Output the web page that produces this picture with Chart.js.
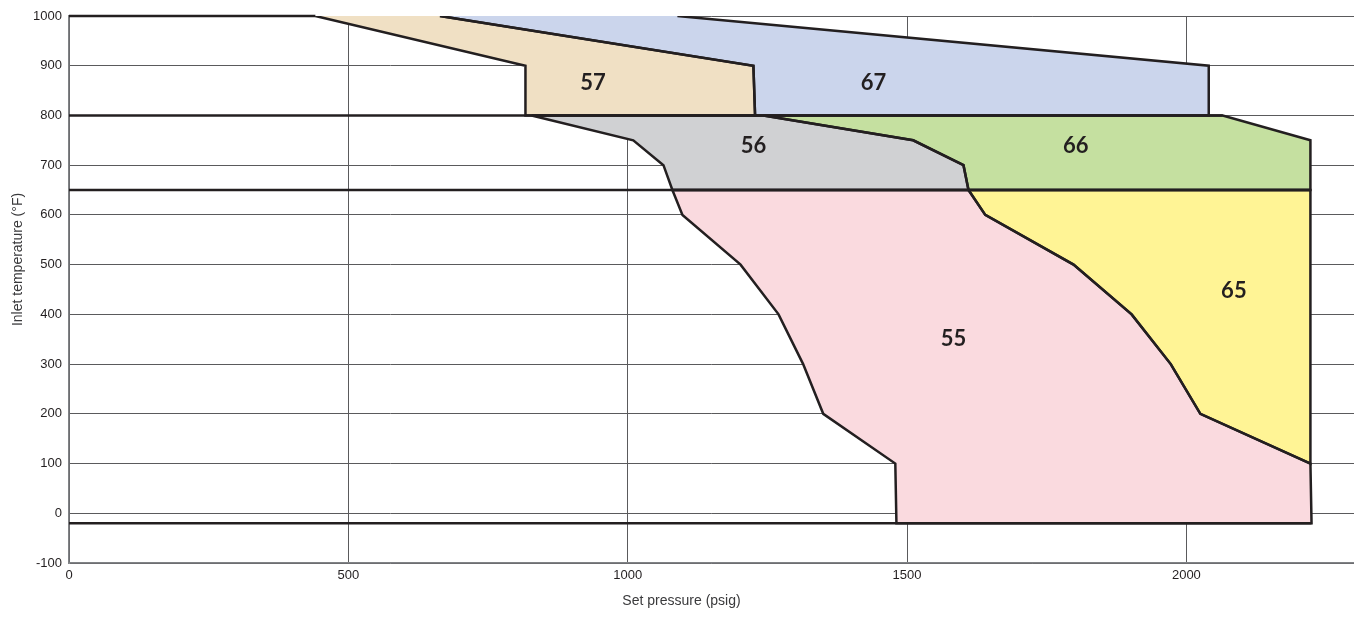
<!DOCTYPE html>
<html>
<head>
<meta charset="utf-8">
<script src="https://cdn.jsdelivr.net/npm/chart.js@4"></script>
<style>
    html, body { margin: 0; padding: 0; background: #fff; }
    #wrap { width: 1354px; height: 631px; }
</style>
</head>
<body>
<div id="wrap"><canvas id="myChart" width="1354" height="631"></canvas></div>
<script>
"use strict";

// service ranges as outlines: [set pressure (psig), inlet temperature (°F)]
const region57 = [[664, 1000], [1225, 900], [1228, 800], [817, 800], [817, 900], [441, 1000]];
const region67 = [[1089, 1000], [2040, 900], [2040, 800], [1228, 800], [1225, 900], [664, 1000]];
const region56 = [[828, 800], [1243, 800], [1511, 750], [1601, 700], [1610, 650], [1080, 650],
    [1064, 700], [1010, 750], [828, 800]];
const region66 = [[1243, 800], [2065, 800], [2222, 750], [2222, 650], [1610, 650], [1601, 700],
    [1511, 750], [1243, 800]];
const region55 = [[1080, 650], [1610, 650], [1640, 600], [1798, 500], [1902, 400], [1972, 300],
    [2025, 200], [2222, 100], [2224, -20], [1481, -20], [1479, 100], [1350, 200], [1314, 300],
    [1270, 400], [1202, 500], [1098, 600], [1080, 650]];
const region65 = [[1610, 650], [2222, 650], [2222, 100], [2025, 200], [1972, 300], [1902, 400],
    [1798, 500], [1640, 600], [1610, 650]];

// thick limit lines running in from 0 psig
const limitTemps = [1000, 800, 650, -20];
const limitEnds = [441, 2065, 2222, 2224];

const regionNames = ["57", "67", "56", "66", "55", "65"];
const labelPressure = [938, 1440, 1225, 1802, 1583, 2085];
const labelTemp = [866, 866, 739, 739, 351, 448];

const xTicks = [0, 500, 1000, 1500, 2000];
const xTitle = "Set pressure (psig)";
const yTitle = "Inlet temperature (°F)";

const ink = "#231f20";
const ctx = document.getElementById("myChart");

function toPoints(list) {
    return list.map((p) => ({ x: p[0], y: p[1] }));
}

function regionSet(list, color) {
    return {
        data: toPoints(list),
        backgroundColor: color,
        borderColor: ink,
        borderWidth: 2.5,
        fill: "shape",
        pointRadius: 0,
        pointHoverRadius: 0,
        tension: 0
    };
}

const datasets = [
    regionSet(region57, "#f0e0c4"),
    regionSet(region67, "#cbd5ec"),
    regionSet(region56, "#d0d1d3"),
    regionSet(region66, "#c5e0a0"),
    regionSet(region55, "#fadadf"),
    regionSet(region65, "#fff495")
];

for (let i = 0; i < limitTemps.length; i++) {
    datasets.push({
        data: [{ x: 0, y: limitTemps[i] }, { x: limitEnds[i], y: limitTemps[i] }],
        borderColor: ink,
        borderWidth: 2.5,
        fill: false,
        clip: false,
        pointRadius: 0,
        pointHoverRadius: 0
    });
}

// region numbers + axis titles (titles sit a bit left/up of centre in the original)
const chartText = {
    id: "chartText",
    afterDraw(chart) {
        const c = chart.ctx;
        const x = chart.scales.x;
        const y = chart.scales.y;
        const area = chart.chartArea;
        c.save();
        c.font = "bold 22px Lato";
        c.fillStyle = ink;
        c.textAlign = "center";
        c.textBaseline = "middle";
        for (let i = 0; i < regionNames.length; i++) {
            c.fillText(regionNames[i], x.getPixelForValue(labelPressure[i]), y.getPixelForValue(labelTemp[i]));
        }

        c.font = "14px 'Liberation Sans'";
        c.fillStyle = "#3a3a3c";
        c.fillText(xTitle, (area.left + area.right) / 2 - 30, 601);
        c.translate(18, (area.top + area.bottom) / 2 - 30);
        c.rotate(-Math.PI / 2);
        c.fillText(yTitle, 0, 0);
        c.restore();
    }
};

const myChart = new Chart(ctx, {
    type: "line",
    data: { datasets: datasets },
    plugins: [chartText],
    options: {
        responsive: false,
        animation: false,
        events: [],
        layout: { padding: { top: 16, right: 0, left: 0, bottom: 0 } },
        plugins: {
            legend: { display: false },
            tooltip: { enabled: false },
            filler: { drawTime: "beforeDatasetsDraw" }
        },
        scales: {
            x: {
                type: "linear",
                min: 0,
                max: 2300,
                z: 1,
                afterFit(scale) { scale.height = 68; },
                afterBuildTicks(scale) {
                    scale.ticks = xTicks.map((v) => ({ value: v }));
                },
                grid: { color: "#5a5a5c", lineWidth: 1, drawTicks: false },
                border: { color: "#808285", width: 1.5 },
                ticks: {
                    padding: 5,
                    color: ink,
                    font: { family: "Liberation Sans", size: 13 },
                    callback: (v) => String(v)
                }
            },
            y: {
                min: -100,
                max: 1000,
                z: 1,
                afterFit(scale) { scale.width = 69; },
                grid: { color: "#5a5a5c", lineWidth: 1, drawTicks: false },
                border: { color: "#808285", width: 1.5 },
                ticks: {
                    stepSize: 100,
                    padding: 7,
                    color: ink,
                    font: { family: "Liberation Sans", size: 13 },
                    callback: (v) => String(v)
                }
            }
        }
    }
});
</script>
</body>
</html>
